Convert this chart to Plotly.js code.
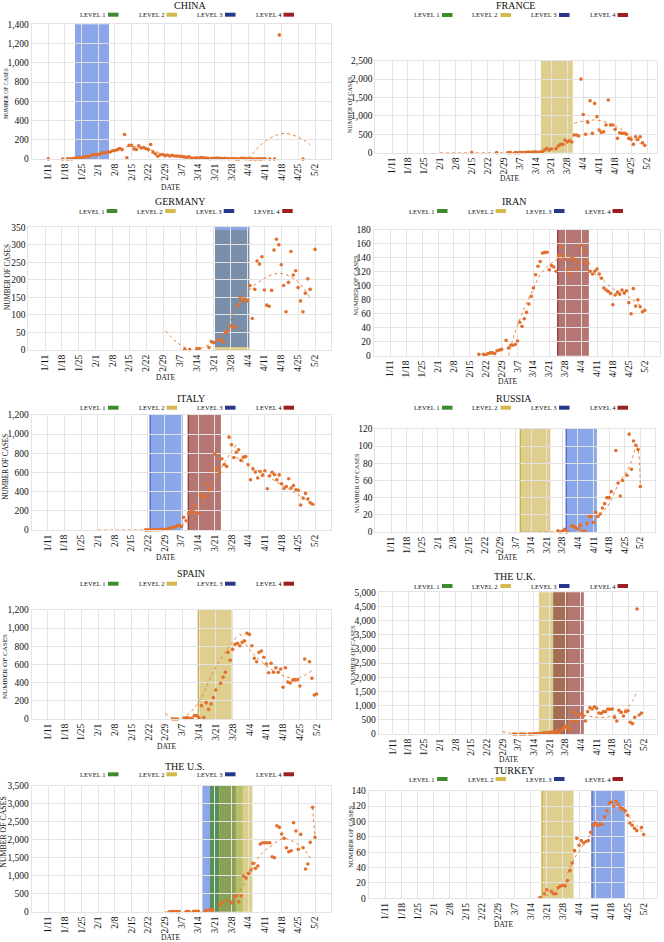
<!DOCTYPE html>
<html><head><meta charset="utf-8">
<script src="https://cdn.plot.ly/plotly-3.0.1.min.js"></script>
<style>html,body{margin:0;padding:0;background:#fff}#chart{width:664px;height:942px}</style>
</head><body><div id="chart"></div><script>
// ---------------- DATA ----------------
const tickDates = ['2020-01-11','2020-01-18','2020-01-25','2020-02-01','2020-02-08','2020-02-15','2020-02-22','2020-02-29','2020-03-07','2020-03-14','2020-03-21','2020-03-28','2020-04-04','2020-04-11','2020-04-18','2020-04-25','2020-05-02'];
const tickLabels = ['1/11','1/18','1/25','2/1','2/8','2/15','2/22','2/29','3/7','3/14','3/21','3/28','4/4','4/11','4/18','4/25','5/2'];
const levelNames = ['LEVEL 1','LEVEL 2','LEVEL 3','LEVEL 4'];

// CHINA (daily from 1/11)
const chinaStart = '2020-01-11';
const chinaCases = [1,null,null,null,null,null,0,null,1,2,3,8,9,16,15,24,26,26,38,43,46,
 45,57,64,65,73,73,86,89,97,108,97,254,13,143,142,105,98,136,114,118,109,97,150,71,52,29,44,47,35,
 42,31,38,31,30,28,27,22,17,22,11,7,13,10,14,13,11,8,3,7,6,9,7,4,6,5,3,5,5,1,1,
 7,6,4,3,1,2,0,2,1,3,3,null,0,null,0,null,1290,null,null,null,null,null,null,null,null,null,0];
const chinaTrend = [
 {d:['2020-01-19','2020-01-26','2020-02-02','2020-02-09','2020-02-13'], v:[0,22,55,98,125]},
 {d:['2020-02-13','2020-02-18','2020-02-23','2020-02-28','2020-03-05','2020-03-12','2020-03-20','2020-03-28','2020-04-04'], v:[130,122,95,55,32,15,7,4,3]},
 {d:['2020-04-04','2020-04-07','2020-04-10','2020-04-13','2020-04-16','2020-04-19','2020-04-22','2020-04-25','2020-04-28','2020-04-30'], v:[5,90,163,215,250,267,255,225,185,145]}
];
const chinaLevels = [['3','2020-01-22 05:00','2020-02-05 12:00']];

// FRANCE (daily from 2/15)
const franceStart = '2020-02-15';
const franceCases = [1,null,null,null,null,null,null,null,null,null,null,1,null,null,null,null,
 2,1,null,2,3,2,8,6,8,15,13,18,27,10,21,27,72,118,72,100,null,109,181,227,227,344,299,326,290,
 480,480,453,2000,1040,500,825,1413,525,1340,980,616,553,570,752,1432,752,752,634,390,544,525,525,500,390,362,227,435,362,435,272,200];
const franceTrend = [
 {d:['2020-02-01','2020-02-15','2020-03-01','2020-03-10','2020-03-16','2020-03-22','2020-03-30'], v:[0,0,0,5,40,120,300]},
 {d:['2020-03-31','2020-04-04','2020-04-09','2020-04-14','2020-04-18','2020-04-22','2020-04-25','2020-04-28','2020-05-01'], v:[797,860,888,830,725,590,435,300,170]}
];
const franceLevels = [['2','2020-03-16 10:00','2020-03-30 10:00']];

// GERMANY (daily from 3/9)
const germanyStart = '2020-03-09';
const germanyCases = [2,null,1,null,null,4,4,null,null,null,7,24,21,null,27,31,23,49,54,69,64,66,
 128,149,140,145,140,184,90,173,254,245,266,171,128,125,170,285,316,300,243,184,109,193,281,214,226,178,140,109,162,203,173,null,287];
const germanyTrend = [
 {d:['2020-03-01','2020-03-06','2020-03-12','2020-03-16','2020-03-21','2020-03-26','2020-03-29','2020-04-04','2020-04-11','2020-04-17','2020-04-24','2020-04-30'], v:[55,20,0,6,24,62,100,166,204,219,200,149]}
];
const germanyLevels = [['2+3','2020-03-21 12:00','2020-04-04 19:00']];

// IRAN (daily from 2/19)
const iranStart = '2020-02-19';
const iranCases = [2,null,2,1,3,4,4,3,7,8,9,null,22,11,15,15,16,21,48,42,53,62,74,85,97,116,128,135,147,148,148,
 123,129,127,121,143,156,143,138,123,117,
 140,138,124,133,158,150,136,132,121,117,121,124,117,111,97,94,92,89,73,87,91,88,94,90,93,76,60,96,71,80,70,63,65];
const iranTrend = [
 {d:['2020-03-03','2020-03-06','2020-03-10','2020-03-14','2020-03-17','2020-03-21','2020-03-25'], v:[0,34,68,96,116,130,139]},
 {d:['2020-04-07','2020-04-12','2020-04-18','2020-04-24','2020-04-30'], v:[121,113,96,86,72]}
];
const iranLevels = [['4','2020-03-24 17:00','2020-04-07 10:00']];

// ITALY (daily from 2/21)
const italyStart = '2020-02-21';
const italyCases = [1,1,1,4,3,2,5,4,8,
 5,18,27,28,41,49,36,133,97,168,196,189,250,175,368,349,345,475,427,627,793,651,601,743,683,662,969,889,756,812,837,
 727,760,766,681,525,636,604,542,610,570,619,431,566,602,578,525,575,482,433,454,534,437,464,420,415,260,333,382,323,285,269];
const italyTrend = [
 {d:['2020-02-01','2020-02-22','2020-03-01','2020-03-07','2020-03-12','2020-03-16','2020-03-20','2020-03-25','2020-03-30'], v:[0,2,10,45,130,280,480,700,890]},
 {d:['2020-03-30','2020-05-02'], v:[758,261]}
];
const italyLevels = [['3','2020-02-22 22:00','2020-03-07 14:00'],['4','2020-03-09 22:00','2020-03-23 14:00']];

// RUSSIA (daily from 3/26)
const russiaStart = '2020-03-26';
const russiaCases = [1.5,0,1,3,0,null,7,7,5,3.5,8,1,1,10,18,18,11,23,18,21,28,33,40,40,47,null,95,57,42,60,null,66,114,73,106,101,96,53];
const russiaTrend = [
 {d:['2020-03-09','2020-03-20','2020-03-28','2020-04-03','2020-04-09','2020-04-13','2020-04-18','2020-04-22','2020-04-27','2020-04-30'], v:[0,0,1,4,10,18,33,55,76,101]},
 {d:['2020-04-30','2020-05-01','2020-05-02'], v:[101,96,53]}
];
const russiaLevels = [['2','2020-03-09 02:00','2020-03-22 14:00'],['3','2020-03-29 17:00','2020-04-12 12:00']];

// SPAIN (daily from 3/3)
const spainStart = '2020-03-03';
const spainCases = [0,0,0,null,null,7,15,7,7,37,37,15,147,15,180,106,165,235,319,null,393,459,514,734,646,767,822,833,807,
 844,859,943,932,807,668,631,734,749,679,606,510,613,514,565,514,551,349,565,407,396,429,429,433,363,null,661,null,631,448,264,275];
const spainTrend = [
 {d:['2020-02-29','2020-03-04','2020-03-09','2020-03-14','2020-03-20','2020-03-25','2020-03-30'], v:[62,0,44,191,521,741,914]},
 {d:['2020-03-31','2020-04-05','2020-04-11','2020-04-18','2020-04-22','2020-04-25','2020-04-30'], v:[943,734,587,477,448,455,532]}
];
const spainLevels = [['2','2020-03-13 17:00','2020-03-27 14:00']];

// THE U.K. (daily from 3/5)
const ukStart = '2020-03-05';
const ukCases = [1,1,null,1,1,1,null,2,1,10,14,20,16,33,40,33,56,48,54,87,41,115,181,260,209,180,
 435,764,435,694,706,635,459,788,929,882,964,905,741,729,788,788,882,870,882,588,459,835,764,635,788,823,412,365,588,4410,670,741];
const ukTrend = [
 {d:['2020-02-29','2020-03-07','2020-03-16','2020-03-25','2020-03-30'], v:[82,0,35,176,341]},
 {d:['2020-03-31','2020-04-05','2020-04-10','2020-04-15','2020-04-20','2020-04-25','2020-04-29'], v:[788,680,600,590,700,950,1490]}
];
const ukLevels = [['2','2020-03-16 05:00','2020-03-22 14:00'],['2+4','2020-03-22 14:00','2020-03-29 14:00'],['4','2020-03-29 14:00','2020-04-05 07:00']];

// THE U.S. (daily from 3/2)
const usStart = '2020-03-02';
const usCases = [5,1,4,1,2,null,null,4,4,null,8,10,10,null,null,28,46,56,56,null,null,185,259,null,306,null,259,417,444,278,
 444,991,944,1065,1158,1343,1204,1269,1880,1917,1917,1917,1917,1528,1500,2389,2343,2158,2037,1778,1667,1695,2472,2241,1732,2148,1778,1185,1324,1926,2898,2065];
const usTrend = [
 {d:['2020-02-29','2020-03-10','2020-03-20','2020-03-27','2020-04-01','2020-04-05','2020-04-09','2020-04-13','2020-04-16','2020-04-19','2020-04-23','2020-04-27','2020-04-30'], v:[0,0,10,150,650,1100,1570,1800,1944,2037,1944,1760,1482]},
 {d:['2020-05-01','2020-05-02'], v:[2898,2065]}
];
const usLevels = [['3','2020-03-15 17:00','2020-03-18 22:00'],['1','2020-03-18 22:00','2020-03-22 19:00'],['1+2','2020-03-22 19:00','2020-03-29 19:00'],['2+1','2020-03-29 19:00','2020-04-01 17:00'],['2','2020-04-01 17:00','2020-04-05 17:00']];

// TURKEY (daily from 3/18)
const turkeyStart = '2020-03-18';
const turkeyCases = [1,null,6,11,null,9,6,6,14,16,17,16,23,36,46,62,78,69,75,72,74,75,86,95,98,95,96,96,106,114,124,125,120,126,122,118,116,114,108,98,95,91,88,null,92,83];
const turkeyTrend = [
 {d:['2020-03-18','2020-03-22','2020-03-26','2020-03-30'], v:[0,5,12,22]},
 {d:['2020-03-30','2020-04-02','2020-04-06','2020-04-10','2020-04-14','2020-04-19','2020-04-23','2020-04-27','2020-05-02'], v:[32,52,70,88,103,114,113,102,83]}
];
const turkeyLevels = [['2','2020-03-18 22:00','2020-04-01 14:00'],['3','2020-04-09 14:00','2020-04-23 19:00']];

// ---------------- LAYOUT / STYLE ----------------
const W = 664, H = 942;
const FONT = 'Liberation Serif';
const TXT = '#111';
const DOT = '#e2702c', TRENDC = '#e8803f', GRID = '#e3e3e3';
const levelFill = {'1':'rgba(60,125,55,0.85)','2':'rgba(214,195,115,0.8)','3':'rgba(110,145,228,0.8)','4':'rgba(160,80,76,0.78)',
  '2+3':'rgba(110,132,162,0.92)','2+4':'rgba(155,88,60,0.88)','1+2':'rgba(120,148,60,0.88)','2+1':'rgba(170,182,80,0.85)'};
const levelEdge = {'1':'rgb(40,100,40)','2':'rgb(200,168,50)','3':'rgb(60,90,200)','4':'rgb(140,45,45)'};
const swatch = ['#3d8b2d','#d6b94c','#27378a','#9e1f1f'];

const panels = [
 {title:'CHINA', start:chinaStart, vals:chinaCases, trend:chinaTrend, levels:chinaLevels, box:[31.7,331,24.3,159], x11:48.3, x52:315, ymax:1400, dtick:200, tt:[190,6], leg:[79,14.7], yt:[5.7,94,5.5], dt:[171,187], edge:false},
 {title:'FRANCE', start:franceStart, vals:franceCases, trend:franceTrend, levels:franceLevels, box:[375.3,657,60.7,152.7], x11:392, x52:647, ymax:2500, dtick:500, tt:[515,6], leg:[413,15], yt:[350.3,105,6.2], dt:[509.7,178.3], edge:false},
 {title:'GERMANY', start:germanyStart, vals:germanyCases, trend:germanyTrend, levels:germanyLevels, box:[28.3,331,227.3,350], x11:45, x52:315, ymax:350, dtick:50, tt:[180,201.7], leg:[77.7,211], yt:[7.3,276.7,7.2], dt:[166,377], edge:false},
 {title:'IRAN', start:iranStart, vals:iranCases, trend:iranTrend, levels:iranLevels, box:[373.7,660,230,355.7], x11:390.3, x52:644.7, ymax:180, dtick:20, tt:[513.7,201.7], leg:[408,211], yt:[356,285.7,6.6], dt:[507.7,381], edge:true},
 {title:'ITALY', start:italyStart, vals:italyCases, trend:italyTrend, levels:italyLevels, box:[31.7,331,415,530], x11:47.7, x52:315, ymax:1200, dtick:200, tt:[191,398.3], leg:[79,407.7], yt:[6,466.7,7.2], dt:[166,557.3], edge:true},
 {title:'RUSSIA', start:russiaStart, vals:russiaCases, trend:russiaTrend, levels:russiaLevels, box:[375.3,655,429,532], x11:391, x52:640.3, ymax:120, dtick:20, tt:[513.7,398.3], leg:[413,407.7], yt:[356,483,6.5], dt:[507.7,557.3], edge:true},
 {title:'SPAIN', start:spainStart, vals:spainCases, trend:spainTrend, levels:spainLevels, box:[31.7,331,610,719], x11:47.7, x52:316.7, ymax:1200, dtick:200, tt:[191,573.3], leg:[79,583.7], yt:[5,667,7.1], dt:[166.7,746.7], edge:true},
 {title:'THE U.K.', start:ukStart, vals:ukCases, trend:ukTrend, levels:ukLevels, box:[378.7,657,592.3,734], x11:392.7, x52:643.7, ymax:5000, dtick:500, tt:[514,576.7], leg:[413,586], yt:[352,655,6.5], dt:[508.7,759], edge:false},
 {title:'THE U.S.', start:usStart, vals:usCases, trend:usTrend, levels:usLevels, box:[31.7,331,785.7,911.7], x11:48.3, x52:315, ymax:3500, dtick:500, tt:[185,766.7], leg:[79,774.3], yt:[4,831.7,7.8], dt:[171,937.7], edge:false},
 {title:'TURKEY', start:turkeyStart, vals:turkeyCases, trend:turkeyTrend, levels:turkeyLevels, box:[368.7,657,790.7,898.3], x11:385.3, x52:643.7, ymax:140, dtick:20, tt:[514.3,770.7], leg:[408,779], yt:[351,836.7,6.8], dt:[504.3,924], edge:true}
];

// ---------------- BUILD ----------------
const DAY = 864e5;
const T11 = Date.UTC(2020,0,11), T52 = Date.UTC(2020,4,2);
function msToStr(ms){ return new Date(ms).toISOString().slice(0,19).replace('T',' '); }
function dailyDates(start, n){ const t0 = Date.parse(start+'T00:00:00Z'); const out=[]; for(let i=0;i<n;i++) out.push(msToStr(t0+i*DAY).slice(0,10)); return out; }
function ann(text, px, py, size, extra){
  return Object.assign({text:text, x:px/W, y:1-py/H, xref:'paper', yref:'paper', showarrow:false,
    font:{family:FONT,size:size,color:TXT}, xanchor:'center', yanchor:'middle', borderpad:0}, extra||{});
}

const traces=[], shapes=[], annotations=[];
const layout = {width:W, height:H, margin:{l:0,r:0,t:0,b:0}, paper_bgcolor:'#fff', plot_bgcolor:'rgba(0,0,0,0)', showlegend:false, font:{family:FONT}};

panels.forEach((p,i)=>{
  const n=i+1, s = n===1?'':String(n);
  const xr='x'+s, yr='y'+s;
  const [l,r,t,b]=p.box;
  const ppd=(p.x52-p.x11)/112;
  const r0=T11-(p.x11-l)/ppd*DAY, r1=T52+(r-p.x52)/ppd*DAY;
  layout['xaxis'+s] = {type:'date', domain:[l/W,r/W], range:[msToStr(r0),msToStr(r1)], anchor:yr,
    tickmode:'array', tickvals:tickDates, ticktext:tickLabels, tickangle:-90,
    tickfont:{family:FONT,size:9.5,color:TXT}, showgrid:true, gridcolor:GRID, gridwidth:1,
    zeroline:false, showline:true, mirror:true, linecolor:GRID, linewidth:1, ticks:'', fixedrange:true};
  layout['yaxis'+s] = {domain:[1-b/H,1-t/H], range:[0,p.ymax], anchor:xr, tick0:0, dtick:p.dtick, tickformat:',d',
    tickfont:{family:FONT,size:9.5,color:TXT}, showgrid:true, gridcolor:GRID, gridwidth:1,
    zeroline:false, showline:true, mirror:true, linecolor:GRID, linewidth:1, ticks:'', fixedrange:true};

  // level periods (in data coordinates on x, full height on y)
  p.levels.forEach(lv=>{
    const [key,x0,x1]=lv;
    shapes.push({type:'rect', xref:xr, yref:'paper', x0:x0, x1:x1, y0:1-b/H, y1:1-t/H, fillcolor:levelFill[key], line:{width:0}, layer:'below'});
    if(key==='2+3'){
      shapes.push({type:'rect', xref:xr, yref:'paper', x0:x0, x1:x1, y0:1-(t+3)/H, y1:1-t/H, fillcolor:'rgb(138,166,232)', line:{width:0}, layer:'below'});
      shapes.push({type:'rect', xref:xr, yref:'paper', x0:x0, x1:x1, y0:1-b/H, y1:1-(b-3)/H, fillcolor:'rgb(222,207,142)', line:{width:0}, layer:'below'});
    }
    if(p.edge && levelEdge[key]){
      shapes.push({type:'line', xref:xr, yref:'paper', x0:x0, x1:x0, y0:1-b/H, y1:1-t/H, line:{color:levelEdge[key], width:1.2}, layer:'below'});
    }
  });

  // trend lines
  p.trend.forEach(seg=>{
    traces.push({type:'scatter', mode:'lines', x:seg.d, y:seg.v, xaxis:xr, yaxis:yr,
      line:{color:TRENDC, width:1, dash:'dot', shape:'spline', smoothing:1}, hoverinfo:'skip'});
  });
  // daily points
  traces.push({type:'scatter', mode:'markers', x:dailyDates(p.start,p.vals.length), y:p.vals, xaxis:xr, yaxis:yr,
    marker:{color:DOT, size:3.6}, cliponaxis:false});

  // texts
  annotations.push(ann(p.title, p.tt[0], p.tt[1], 10));
  annotations.push(ann('NUMBER OF CASES', p.yt[0], p.yt[1], p.yt[2], {textangle:-90}));
  annotations.push(ann('DATE', p.dt[0], p.dt[1], 7.5));
  levelNames.forEach((nm,k)=>{
    const lx = p.leg[0] + k*58.5, ly = p.leg[1];
    annotations.push(ann(nm, lx, ly, 6.6, {xanchor:'left'}));
    shapes.push({type:'rect', xref:'paper', yref:'paper', x0:(lx+29)/W, x1:(lx+39.5)/W, y0:1-(ly+2)/H, y1:1-(ly-2)/H, fillcolor:swatch[k], line:{width:0}, layer:'above'});
  });
});

layout.shapes = shapes;
layout.annotations = annotations;
Plotly.newPlot('chart', traces, layout, {staticPlot:true, displayModeBar:false});
</script></body></html>
